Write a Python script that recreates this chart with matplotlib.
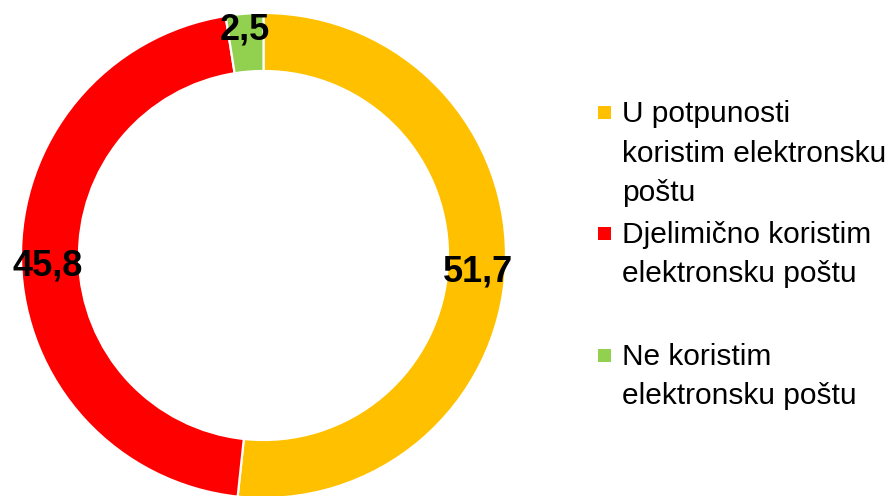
import matplotlib.pyplot as plt
import numpy as np

# podaci
kategorije = ['U potpunosti\nkoristim elektronsku\npoštu',
              'Djelimično koristim\nelektronsku poštu',
              'Ne koristim\nelektronsku poštu']
vrijednosti = [51.7, 45.8, 2.5]
boje = ['#FFC000', '#FF0000', '#92D050']

plt.rcParams['font.family'] = ['Liberation Sans', 'DejaVu Sans']

W, H = 890, 496
fig = plt.figure(figsize=(W / 100, H / 100), dpi=100)
ax = fig.add_axes([0, 0, 1, 1])

cx, cy, R = 263.5, H - 255.5, 242.5
wedges, _ = ax.pie(vrijednosti, colors=boje, startangle=90, counterclock=False,
                   center=(cx, cy), radius=R, frame=True,
                   wedgeprops=dict(width=58, edgecolor='white', linewidth=1.6))
ax.set_xlim(0, W)
ax.set_ylim(0, H)
ax.set_aspect('equal')
ax.axis('off')

# oznake vrijednosti
udaljenost = [0.885, 0.89, 0.955]
for w, v, d in zip(wedges, vrijednosti, udaljenost):
    ang = np.deg2rad((w.theta1 + w.theta2) / 2)
    x = cx + d * R * np.cos(ang)
    y = cy + d * R * np.sin(ang) - 5
    ax.text(x, y, f'{v:.1f}'.replace('.', ','), ha='center', va='center',
            fontsize=26, fontweight='bold', color='black')

# legenda
prvi_red = [122, 243, 365]
for lab, b, y0 in zip(kategorije, boje, prvi_red):
    for i, red in enumerate(lab.split('\n')):
        fig.text(622 / W, 1 - (y0 + i * 39.5) / H, red, fontsize=21.5,
                 ha='left', va='baseline', color='black')
    ax.add_patch(plt.Rectangle((598, H - (y0 - 3)), 13, 13, color=b, lw=0))

fig.savefig('out.png', dpi=100)
